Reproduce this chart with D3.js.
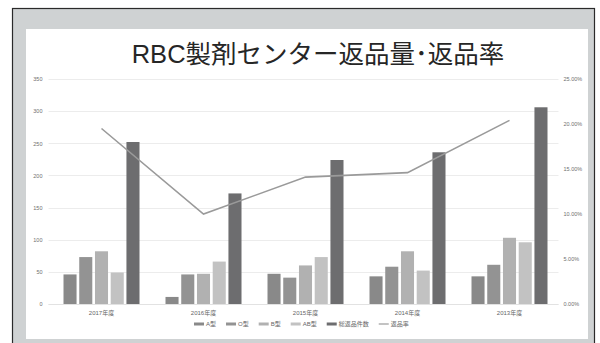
<!DOCTYPE html>
<html>
<head>
<meta charset="utf-8">
<script src="https://cdn.jsdelivr.net/npm/d3@7"></script>
<style>
  html, body { margin: 0; padding: 0; background: #fff; }
  svg { display: block; }
</style>
</head>
<body>
<svg id="chart" width="600" height="343"></svg>
<script>
// Fiscal years shown along the x axis
const years = ["2017年度", "2016年度", "2015年度", "2014年度", "2013年度"];

// Returned units by blood type, plus the total (left axis)
const seriesNames = ["A型", "O型", "B型", "AB型", "総返品件数"];
const typeA  = [46, 11, 47, 43, 43];
const typeO  = [73, 46, 41, 58, 61];
const typeB  = [82, 47, 60, 82, 103];
const typeAB = [49, 66, 73, 52, 96];
const total  = [252, 172, 224, 236, 306];

// Return rate in percent (right axis)
const rateName = "返品率";
const returnRate = [19.5, 10.0, 14.1, 14.6, 20.4];

// Axis ticks
const leftTicks = [0, 50, 100, 150, 200, 250, 300, 350];
const rightTicks = [0, 5, 10, 15, 20, 25];

const seriesValues = [typeA, typeO, typeB, typeAB, total];
const seriesColors = ["#898989", "#939393", "#b1b1b1", "#c2c2c2", "#6d6d6f"];
const lineColor = "#9a9a9a";

const svg = d3.select("#chart");
const font = "'Liberation Sans', Arial, 'Noto Sans CJK JP', sans-serif";

// Frame: dark outline, grey band, white panel
svg.append("rect").attr("x", 12.5).attr("y", 8.5).attr("width", 582).attr("height", 345)
  .attr("fill", "#cfd2d3").attr("stroke", "#2a2a2a").attr("stroke-width", 1.2);
svg.append("rect").attr("x", 26).attr("y", 29).attr("width", 562).attr("height", 310)
  .attr("fill", "#ffffff");

// Title
svg.append("text").attr("x", 318).attr("y", 63).attr("text-anchor", "middle")
  .attr("font-family", "'Liberation Sans', Arial, 'Noto Sans CJK JP', sans-serif")
  .attr("font-size", 25.5).attr("fill", "#262626")
  .text("RBC製剤センター返品量･返品率");

const plot = { left: 48.5, right: 558.5, top: 79, bottom: 304 };

const x0 = d3.scaleBand().domain(years).range([plot.left, plot.right]).paddingInner(0).paddingOuter(0);
const x1 = d3.scaleBand().domain(seriesNames).range([0, 76]).paddingInner(0.17);
const yL = d3.scaleLinear().domain([0, 350]).range([plot.bottom, plot.top]);
const yR = d3.scaleLinear().domain([0, 25]).range([plot.bottom, plot.top]);

// Gridlines
svg.append("g").selectAll("line").data(leftTicks).join("line")
  .attr("x1", plot.left).attr("x2", plot.right)
  .attr("y1", d => Math.round(yL(d)) + 0.5).attr("y2", d => Math.round(yL(d)) + 0.5)
  .attr("stroke", "#ececec").attr("stroke-width", 1);

// Left axis
const leftAxis = svg.append("g").attr("transform", `translate(${plot.left - 6},0)`)
  .call(d3.axisLeft(yL).tickValues(leftTicks).tickSize(0).tickPadding(0));
leftAxis.select(".domain").remove();
leftAxis.selectAll("text").attr("font-family", font).attr("font-size", 5.5).attr("fill", "#6f6f6f");

// Right axis
const rightAxis = svg.append("g").attr("transform", `translate(${plot.right + 5},0)`)
  .call(d3.axisRight(yR).tickValues(rightTicks).tickSize(0).tickPadding(0)
    .tickFormat(d => d.toFixed(2) + "%"));
rightAxis.select(".domain").remove();
rightAxis.selectAll("text").attr("font-family", font).attr("font-size", 5.5).attr("fill", "#6f6f6f");

// Grouped bars
const groupOffset = (x0.bandwidth() - 76) / 2 + 2;
const groups = svg.append("g").selectAll("g").data(years).join("g")
  .attr("transform", d => `translate(${x0(d) + groupOffset},0)`);
groups.selectAll("rect")
  .data((d, i) => seriesNames.map((s, k) => ({ s, k, v: seriesValues[k][i] })))
  .join("rect")
  .attr("x", d => x1(d.s))
  .attr("width", x1.bandwidth())
  .attr("y", d => yL(d.v))
  .attr("height", d => yL(0) - yL(d.v))
  .attr("fill", d => seriesColors[d.k]);

// Baseline
svg.append("line").attr("x1", plot.left).attr("x2", plot.right)
  .attr("y1", plot.bottom + 0.5).attr("y2", plot.bottom + 0.5)
  .attr("stroke", "#e2e2e2");

// Return-rate line
const cx = d => x0(d) + x0.bandwidth() / 2 + 2;
svg.append("path")
  .datum(years.map((y, i) => [cx(y), yR(returnRate[i])]))
  .attr("d", d3.line())
  .attr("fill", "none").attr("stroke", lineColor).attr("stroke-width", 1.6);

// Category labels
svg.append("g").selectAll("text").data(years).join("text")
  .attr("x", d => cx(d)).attr("y", 315).attr("text-anchor", "middle")
  .attr("font-family", font).attr("font-size", 6).attr("fill", "#666")
  .text(d => d);

// Legend
const legendItems = seriesNames.map((s, k) => ({ name: s, color: seriesColors[k], type: "bar" }))
  .concat([{ name: rateName, color: lineColor, type: "line" }]);
const legend = svg.append("g").attr("transform", "translate(0,326)");
let lx = 194;
legendItems.forEach(item => {
  const g = legend.append("g").attr("transform", `translate(${lx},0)`);
  if (item.type === "bar") {
    g.append("rect").attr("x", 0).attr("y", -3.5).attr("width", 10).attr("height", 3).attr("fill", item.color);
  } else {
    g.append("line").attr("x1", 0).attr("x2", 10).attr("y1", -2).attr("y2", -2)
      .attr("stroke", item.color).attr("stroke-width", 1.2);
  }
  const t = g.append("text").attr("x", 12).attr("y", 0)
    .attr("font-family", font).attr("font-size", 6).attr("fill", "#666").text(item.name);
  lx += 12 + t.node().getComputedTextLength() + 10;
});
</script>
</body>
</html>
